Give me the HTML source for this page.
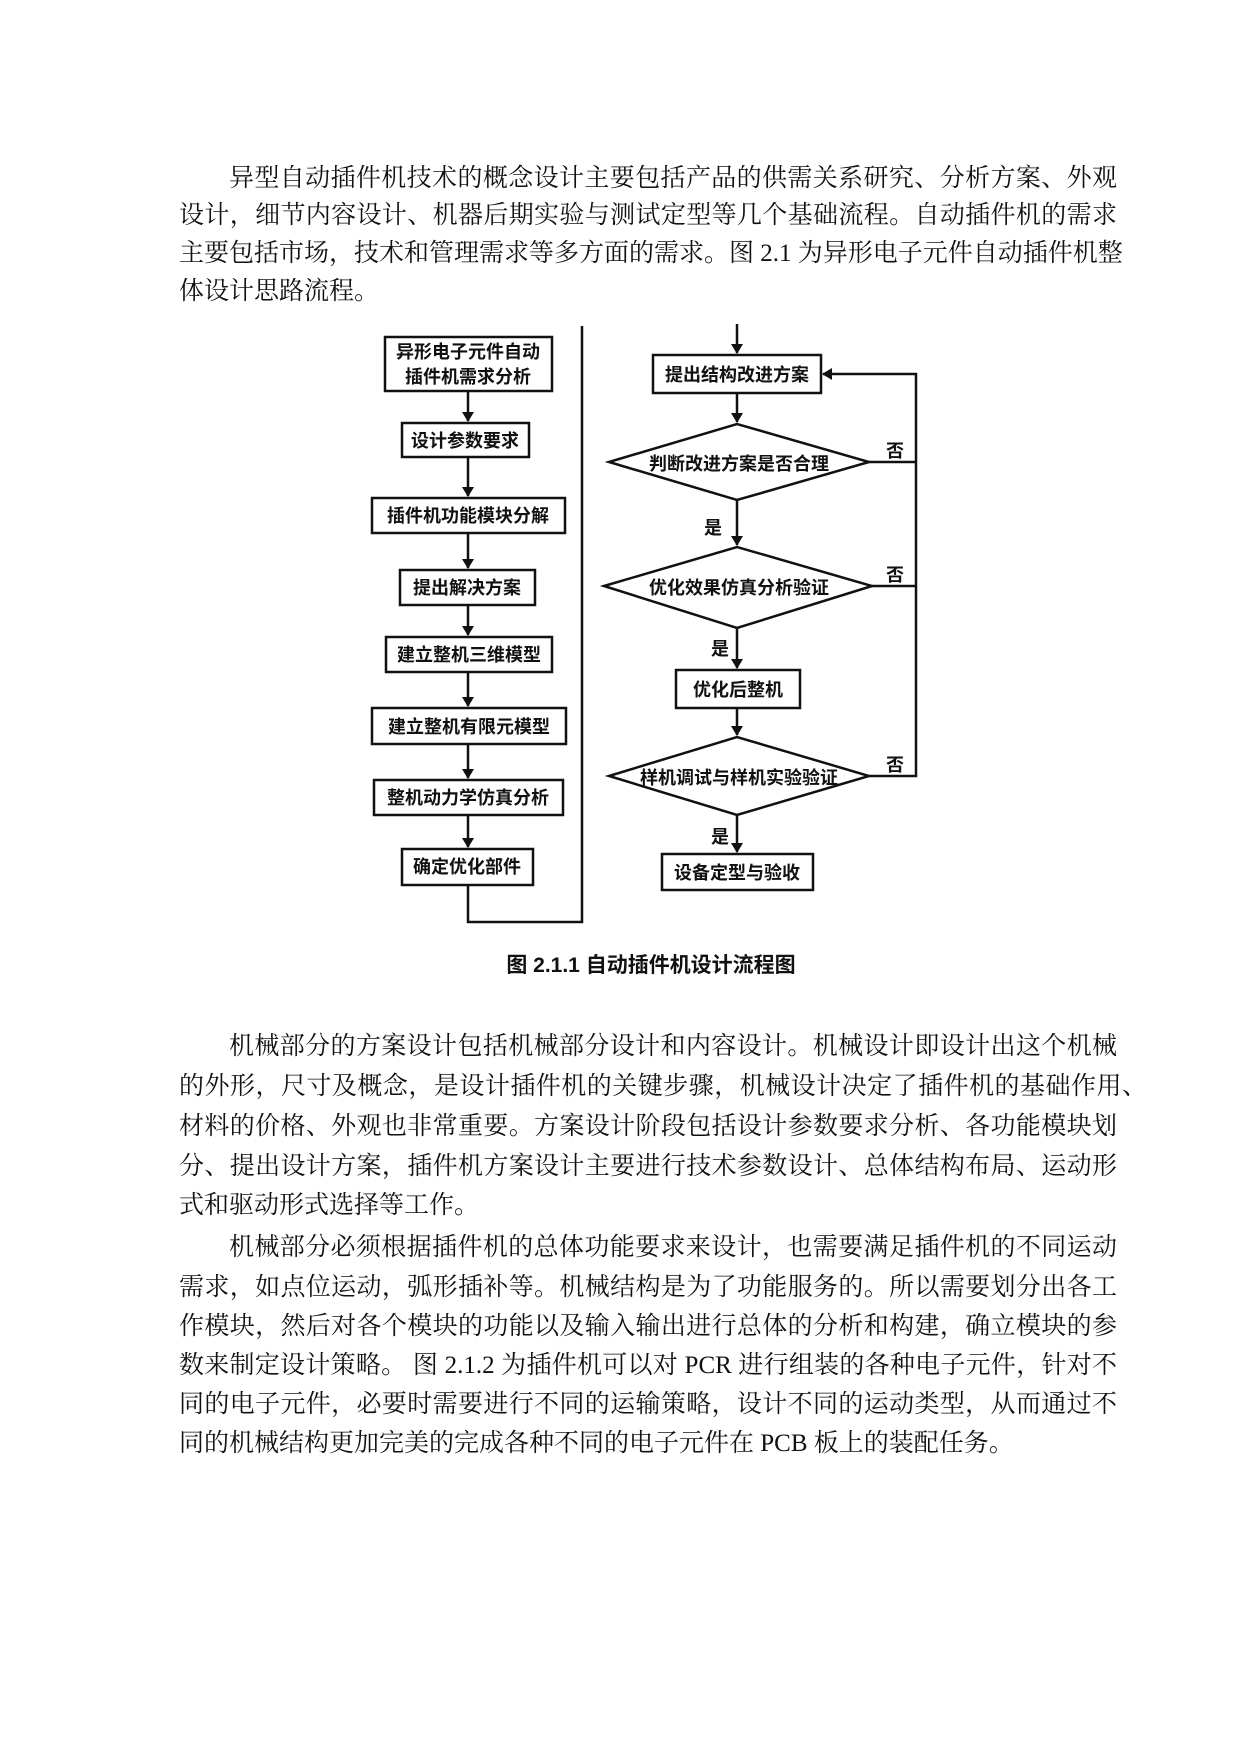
<!DOCTYPE html>
<html><head><meta charset="utf-8"><style>
html,body{margin:0;padding:0;background:#fff;}
body{width:1240px;height:1754px;position:relative;overflow:hidden;font-family:"Liberation Serif","Noto Serif CJK SC","Noto Sans CJK SC",serif;color:#111;}
.l{position:absolute;left:179px;width:938px;font-size:25px;line-height:30px;white-space:nowrap;text-align:justify;text-align-last:justify;}
.i{left:229px;width:888px;}
.n{text-align-last:left;}
svg{position:absolute;left:0;top:0;}
svg text{font-family:"Liberation Sans","Noto Sans CJK SC",sans-serif;font-size:18px;font-weight:bold;fill:#111;}
</style></head><body>
<div class="l i" style="top:164px">异型自动插件机技术的概念设计主要包括产品的供需关系研究、分析方案、外观</div>
<div class="l" style="top:201px">设计，细节内容设计、机器后期实验与测试定型等几个基础流程。自动插件机的需求</div>
<div class="l" style="top:239px">主要包括市场，技术和管理需求等多方面的需求。图 2.1 为异形电子元件自动插件机整</div>
<div class="l n" style="top:277px">体设计思路流程。</div>

<div class="l i" style="top:1032px">机械部分的方案设计包括机械部分设计和内容设计。机械设计即设计出这个机械</div>
<div class="l" style="top:1072px;width:968px">的外形，尺寸及概念，是设计插件机的关键步骤，机械设计决定了插件机的基础作用、</div>
<div class="l" style="top:1112px">材料的价格、外观也非常重要。方案设计阶段包括设计参数要求分析、各功能模块划</div>
<div class="l" style="top:1152px">分、提出设计方案，插件机方案设计主要进行技术参数设计、总体结构布局、运动形</div>
<div class="l n" style="top:1191px">式和驱动形式选择等工作。</div>

<div class="l i" style="top:1233px">机械部分必须根据插件机的总体功能要求来设计，也需要满足插件机的不同运动</div>
<div class="l" style="top:1273px">需求，如点位运动，弧形插补等。机械结构是为了功能服务的。所以需要划分出各工</div>
<div class="l" style="top:1312px">作模块，然后对各个模块的功能以及输入输出进行总体的分析和构建，确立模块的参</div>
<div class="l" style="top:1351px">数来制定设计策略。 图 2.1.2 为插件机可以对 PCR 进行组装的各种电子元件，针对不</div>
<div class="l" style="top:1390px">同的电子元件，必要时需要进行不同的运输策略，设计不同的运动类型，从而通过不</div>
<div class="l n" style="top:1429px">同的机械结构更加完美的完成各种不同的电子元件在 PCB 板上的装配任务。</div>

<svg width="1240" height="1754" viewBox="0 0 1240 1754">
<defs><marker id="a" markerWidth="10" markerHeight="12" refX="9" refY="6" orient="auto" markerUnits="userSpaceOnUse"><path d="M0,0 L10,6 L0,12 Z" fill="#111"/></marker></defs>
<g stroke="#111" stroke-width="2.5" fill="none">
<rect x="385" y="337" width="167" height="54"/>
<rect x="402" y="423" width="127" height="34"/>
<rect x="372" y="498" width="193" height="35"/>
<rect x="400" y="570" width="135" height="35"/>
<rect x="386" y="637" width="166" height="35"/>
<rect x="372" y="708" width="194" height="36"/>
<rect x="374" y="780" width="189" height="35"/>
<rect x="402" y="849" width="131" height="36"/>
<line x1="468" y1="391" x2="468" y2="421" marker-end="url(#a)"/>
<line x1="468" y1="457" x2="468" y2="496" marker-end="url(#a)"/>
<line x1="468" y1="533" x2="468" y2="568" marker-end="url(#a)"/>
<line x1="468" y1="605" x2="468" y2="635" marker-end="url(#a)"/>
<line x1="468" y1="672" x2="468" y2="706" marker-end="url(#a)"/>
<line x1="468" y1="744" x2="468" y2="778" marker-end="url(#a)"/>
<line x1="468" y1="815" x2="468" y2="847" marker-end="url(#a)"/>
<polyline points="468,885 468,922 582,922 582,326"/>
<line x1="737" y1="324" x2="737" y2="353" marker-end="url(#a)"/>
<rect x="653" y="355" width="168" height="38"/>
<line x1="737" y1="393" x2="737" y2="422" marker-end="url(#a)"/>
<polygon points="609,462 737,424 869,462 737,500"/>
<line x1="737" y1="500" x2="737" y2="545" marker-end="url(#a)"/>
<polygon points="604,586 737,547 872,586 737,628"/>
<line x1="737" y1="628" x2="737" y2="668" marker-end="url(#a)"/>
<rect x="676" y="670" width="124" height="38"/>
<line x1="737" y1="708" x2="737" y2="735" marker-end="url(#a)"/>
<polygon points="609,776 737,737 869,776 737,815"/>
<line x1="737" y1="815" x2="737" y2="852" marker-end="url(#a)"/>
<rect x="662" y="854" width="151" height="36"/>
<polyline points="869,776 916,776 916,374 823,374" marker-end="url(#a)"/>
<line x1="869" y1="462" x2="916" y2="462"/>
<line x1="872" y1="586" x2="916" y2="586"/>
</g>
<text x="468" y="358" text-anchor="middle">异形电子元件自动</text>
<text x="468" y="383" text-anchor="middle">插件机需求分析</text>
<text x="465" y="447" text-anchor="middle">设计参数要求</text>
<text x="468" y="522" text-anchor="middle">插件机功能模块分解</text>
<text x="467" y="594" text-anchor="middle">提出解决方案</text>
<text x="469" y="661" text-anchor="middle">建立整机三维模型</text>
<text x="469" y="733" text-anchor="middle">建立整机有限元模型</text>
<text x="468" y="804" text-anchor="middle">整机动力学仿真分析</text>
<text x="467" y="873" text-anchor="middle">确定优化部件</text>
<text x="737" y="381" text-anchor="middle">提出结构改进方案</text>
<text x="739" y="470" text-anchor="middle">判断改进方案是否合理</text>
<text x="739" y="594" text-anchor="middle">优化效果仿真分析验证</text>
<text x="738" y="696" text-anchor="middle">优化后整机</text>
<text x="739" y="784" text-anchor="middle">样机调试与样机实验验证</text>
<text x="737" y="879" text-anchor="middle">设备定型与验收</text>
<text x="713" y="534" text-anchor="middle">是</text>
<text x="720" y="655" text-anchor="middle">是</text>
<text x="720" y="843" text-anchor="middle">是</text>
<text x="895" y="457" text-anchor="middle">否</text>
<text x="895" y="581" text-anchor="middle">否</text>
<text x="895" y="771" text-anchor="middle">否</text>
<text x="651" y="972" text-anchor="middle" style="font-size:21px">图 2.1.1 自动插件机设计流程图</text>
</svg>
</body></html>
